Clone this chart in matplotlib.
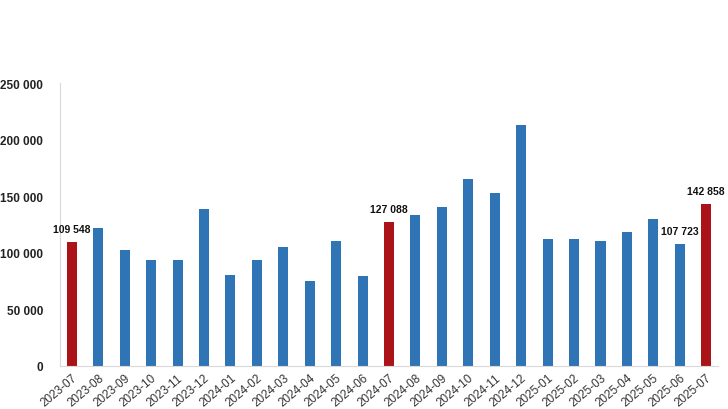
import numpy as np
import matplotlib
matplotlib.use('Agg')
import matplotlib.pyplot as plt
import matplotlib.transforms as mtransforms

months=['2023-07','2023-08','2023-09','2023-10','2023-11','2023-12',
        '2024-01','2024-02','2024-03','2024-04','2024-05','2024-06',
        '2024-07','2024-08','2024-09','2024-10','2024-11','2024-12',
        '2025-01','2025-02','2025-03','2025-04','2025-05','2025-06','2025-07']
values=[109548,121600,102500,93400,93400,138400,
        80100,93600,105400,75400,110400,79200,
        127088,133700,140500,164900,152800,212900,
        111900,112500,110400,118400,129900,107723,142858]
highlight=['2023-07','2024-07','2025-07']
labelled=['2023-07','2024-07','2025-06','2025-07']

blue='#2f75b5'
red='#aa1419'
plt.rcParams['font.family']=['Liberation Sans','DejaVu Sans']

fig=plt.figure(figsize=(7.28,4.10),dpi=100)
ax=fig.add_axes([0.0824,0.105,0.904,0.69])
x=np.arange(len(months))
cols=[red if m in highlight else blue for m in months]
ax.bar(x,values,width=0.38,color=cols)
for i,m in enumerate(months):
    if m in labelled:
        ax.annotate(f'{values[i]:,}'.replace(',',' '),(x[i],values[i]),xytext=(0,6),
                    textcoords='offset points',ha='center',va='bottom',
                    fontsize=7.5,fontweight='bold',color='#111111')
ax.set_xlim(-0.45,len(months)-0.55)
ax.set_ylim(0,250000)
ax.set_yticks(np.arange(0,250001,50000))
ax.set_yticklabels([f'{v:,}'.replace(',',' ') for v in range(0,250001,50000)],
                   fontsize=8.5,fontweight='bold',color='#222222')
ax.set_xticks(x)
ax.set_xticklabels(months,rotation=40,ha='right',va='top',rotation_mode='anchor',
                   fontsize=8.5,color='#333333')
shift=mtransforms.ScaledTranslation(8/100,0,fig.dpi_scale_trans)
for t in ax.get_xticklabels():
    t.set_transform(t.get_transform()+shift)
ax.tick_params(axis='y',length=0,pad=12)
ax.tick_params(axis='x',length=0,pad=4)
for s in ['top','right']:
    ax.spines[s].set_visible(False)
for s in ['left','bottom']:
    ax.spines[s].set_color('#d9d9d9')
    ax.spines[s].set_linewidth(0.8)
fig.savefig('out.png',dpi=100)
